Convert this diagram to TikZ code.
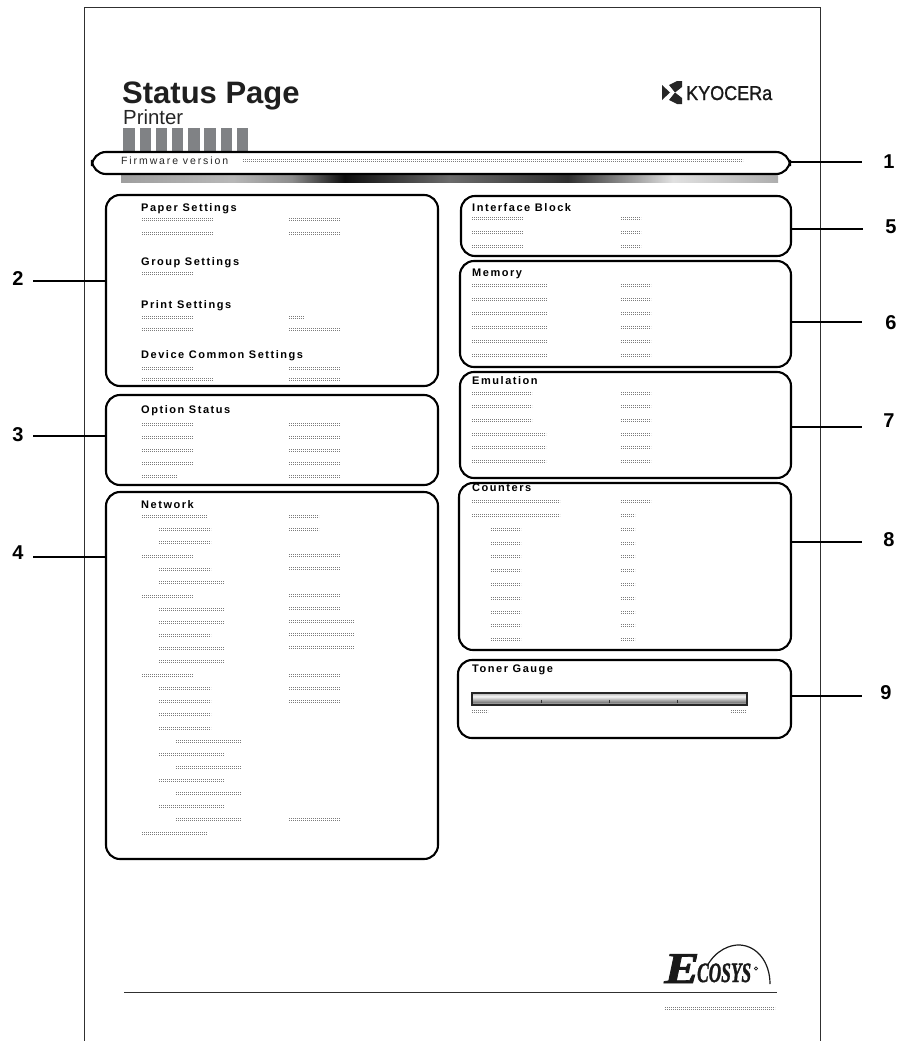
\documentclass[tikz,border=0pt]{standalone}
\usepackage{fontspec}
\setmainfont{Liberation Sans}
\newfontfamily\sectfont[LetterSpace=14]{Liberation Sans Bold}
\newfontfamily\fwfont[LetterSpace=18]{Liberation Sans}
\newfontfamily\kyofont[FakeBold=1.2]{Liberation Sans}
\newfontfamily\ecofont[FakeBold=1.5]{Liberation Serif Bold Italic}
\definecolor{pagec}{HTML}{303030}
\definecolor{barc}{HTML}{808285}
\definecolor{phc}{HTML}{7C7C7C}
\pgfdeclarehorizontalshading{sweep}{100bp}{color(0bp)=(black!38);color(25bp)=(black!38);color(33.5bp)=(black!28);color(38bp)=(black!45);color(42bp)=(black!95);color(50bp)=(black!58);color(59bp)=(black!82);color(67bp)=(black!12);color(75bp)=(black!32);color(100bp)=(black!32)}
\pgfdeclareverticalshading{tonersh}{100bp}{color(0bp)=(black!25);color(25bp)=(black!25);color(35bp)=(black!50);color(59bp)=(black!3);color(75bp)=(black!35);color(100bp)=(black!35)}
\tikzset{
  pagerule/.style={draw=pagec,line width=0.8pt},
  panel/.style={draw=black,line width=2.1pt,rounded corners=14pt,inner sep=0pt,outer sep=0pt,anchor=north west},
  leader/.style={draw=black,line width=2.3pt},
  callout/.style={font=\fontsize{20}{20}\selectfont\bfseries,text=black,inner sep=0pt},
  sect/.style={font=\sectfont\fontsize{11}{11}\selectfont,anchor=base west,inner sep=0pt,text=black},
  dash1/.style={draw=phc,line width=0.9pt,dash pattern=on 1.2pt off 0.8pt},
}
\newcommand{\ph}[3]{\draw[dash1] (#1,#3-0.5) -- (#2,#3-0.5); \draw[dash1] (#1,#3+1.5) -- (#2,#3+1.5);}
\begin{document}
\begin{tikzpicture}[x=1pt,y=-1pt]
\useasboundingbox (0,0) rectangle (911,1041);
% page outline
\draw[pagerule] (84,1041) -- (84,7) -- (820,7) -- (820,1041);
% header
\node[anchor=base west,inner sep=0pt,font=\fontsize{31}{31}\selectfont\bfseries,text=black!88] (title) at (122,103) {Status Page};
\node[anchor=base west,inner sep=0pt,font=\fontsize{20.4}{20}\selectfont,text=black!85] (sub) at (123,124) {Printer};
\foreach \i in {0,...,7} \fill[barc] (123.3+16.2*\i,128) rectangle ++(11.5,23);
\shade[shading=sweep] (121,174) rectangle (778,182);
% Kyocera logo
\fill[black!85] (662,85) -- (670,92.5) -- (662,100) -- cycle;
\fill[black!85] (669,85) -- (677,81) -- (682,81) -- (682,87) -- (675,92.5) -- cycle;
\fill[black!85] (669,100) -- (677,104) -- (682,104) -- (682,98) -- (675,92.5) -- cycle;
\node[anchor=base west,inner sep=0pt,font=\kyofont\fontsize{20}{20}\selectfont,text=black!90,xscale=0.9] (kyo) at (686,100) {KYOCERa};
% panels
\node[panel,minimum width=698pt,minimum height=22pt] (box1) at (92,152) {};
\node[panel,minimum width=332pt,minimum height=191pt] (box2) at (106,195) {};
\node[panel,minimum width=332pt,minimum height=90pt] (box3) at (106,395) {};
\node[panel,minimum width=332pt,minimum height=367pt] (box4) at (106,492) {};
\node[panel,minimum width=330pt,minimum height=60pt] (box5) at (461,196) {};
\node[panel,minimum width=331pt,minimum height=106pt] (box6) at (460,261) {};
\node[panel,minimum width=331pt,minimum height=106pt] (box7) at (460,372) {};
\node[panel,minimum width=332pt,minimum height=167pt] (box8) at (459,483) {};
\node[panel,minimum width=333pt,minimum height=78pt] (box9) at (458,660) {};
% callouts
\node[callout] (n1) at (889,162) {1};
\node[callout] (n2) at (18,279) {2};
\node[callout] (n3) at (18,435) {3};
\node[callout] (n4) at (18,553) {4};
\node[callout] (n5) at (891,227) {5};
\node[callout] (n6) at (891,323) {6};
\node[callout] (n7) at (889,421) {7};
\node[callout] (n8) at (889,540) {8};
\node[callout] (n9) at (886,693) {9};
\coordinate (e1) at (862,162);
\coordinate (e2) at (33,281);
\coordinate (e3) at (33,436);
\coordinate (e4) at (33,557);
\coordinate (e5) at (863,229);
\coordinate (e6) at (862,322);
\coordinate (e7) at (862,427);
\coordinate (e8) at (862,542);
\coordinate (e9) at (862,696);
\draw[leader] (box1.east |- e1) -- (e1);
\draw[leader] (e2) -- (box2.west |- e2);
\draw[leader] (e3) -- (box3.west |- e3);
\draw[leader] (e4) -- (box4.west |- e4);
\draw[leader] (box5.east |- e5) -- (e5);
\draw[leader] (box6.east |- e6) -- (e6);
\draw[leader] (box7.east |- e7) -- (e7);
\draw[leader] (box8.east |- e8) -- (e8);
\draw[leader] (box9.east |- e9) -- (e9);
% firmware
\node[anchor=base west,inner sep=0pt,font=\fwfont\fontsize{10.5}{11}\selectfont,text=black!85] (fw) at (121,164) {Firmware version};
\ph{243}{743}{160}
% section titles
\node[sect] (s1) at (141,211) {Paper Settings};
\node[sect] (s2) at (141,265) {Group Settings};
\node[sect] (s3) at (141,308) {Print Settings};
\node[sect] (s4) at (141,358) {Device Common Settings};
\node[sect] (s5) at (141,413) {Option Status};
\node[sect] (s6) at (141,508) {Network};
\node[sect] (s7) at (472,211) {Interface Block};
\node[sect] (s8) at (472,276) {Memory};
\node[sect] (s9) at (472,384) {Emulation};
\node[sect] (s10) at (472,491) {Counters};
\node[sect] (s11) at (472,672) {Toner Gauge};
% paper .. device rows
\ph{142}{213}{219}\ph{289}{340}{219}
\ph{142}{213}{233}\ph{289}{340}{233}
\ph{142}{193}{273}
\ph{142}{193}{317}\ph{289}{304}{317}
\ph{142}{193}{329}\ph{289}{340}{329}
\ph{142}{193}{368}\ph{289}{340}{368}
\ph{142}{213}{379}\ph{289}{340}{379}
% option status
\foreach \y in {424,437,450,463} {\ph{142}{193}{\y}\ph{289}{340}{\y}}
\ph{142}{177}{476}\ph{289}{340}{476}
% network
\foreach \a/\b/\y in {142/207/516,159/211/529,159/211/542,142/193/556,159/211/569,159/224/582,142/193/596,159/224/609,159/224/622,159/211/635,159/224/648,159/224/661,142/193/675,159/211/688,159/211/701,159/211/714,159/211/728,176/241/741,159/224/754,176/241/767,159/224/780,176/241/793,159/224/806,176/241/819,142/207/833} {\ph{\a}{\b}{\y}}
\foreach \a/\b/\y in {289/319/516,289/319/529,289/340/555,289/340/568,289/340/595,289/340/608,289/354/621,289/354/634,289/354/647,289/340/675,289/340/688,289/340/701,289/340/819} {\ph{\a}{\b}{\y}}
% interface
\foreach \y in {218,232,246} {\ph{472}{523}{\y}\ph{621}{641}{\y}}
% memory
\foreach \y in {285,299,313,327,341,355} {\ph{472}{547}{\y}\ph{621}{651}{\y}}
% emulation
\foreach \y in {393,406,420} {\ph{472}{532}{\y}\ph{621}{651}{\y}}
\foreach \y in {434,447,461} {\ph{472}{546}{\y}\ph{621}{651}{\y}}
% counters
\ph{472}{560}{501}\ph{621}{651}{501}
\ph{472}{560}{515}\ph{621}{635}{515}
\foreach \y in {529,543,556,570,584,598,612,625,639} {\ph{491}{521}{\y}\ph{621}{635}{\y}}
% toner
\shade[shading=tonersh,draw=black!85,line width=2pt] (472,692.5) rectangle (746.5,704.5);
\foreach \x in {541,609,677} \draw[black!80,line width=0.7pt] (\x,699.5) -- (\x,703);
\ph{472}{488}{711}\ph{731}{746}{711}
% bottom
\draw[pagerule] (124,992) -- (777,992);
\ph{665}{775}{1008}
\node[anchor=base west,inner sep=0pt,font=\ecofont\fontsize{44}{44}\selectfont,text=black!90,xscale=1.2] (eco1) at (664,983) {E};
\node[anchor=base west,inner sep=0pt,font=\ecofont\fontsize{28}{28}\selectfont,text=black!90,xscale=0.62] (eco2) at (697,982) {COSYS};
\draw[black!90,line width=1.2pt] (707,966) .. controls (716,950) and (730,944.5) .. (740,945) .. controls (757,946) and (770,962) .. (770,984);
\draw[black!90,line width=0.8pt] (756,968.5) circle (1.6);
\end{tikzpicture}
\end{document}
